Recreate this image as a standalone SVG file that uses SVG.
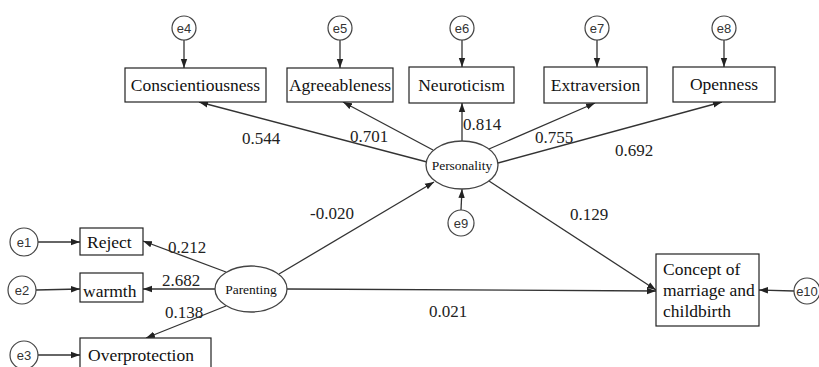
<svg xmlns="http://www.w3.org/2000/svg" width="819" height="367" viewBox="0 0 819 367">
<defs>
<marker id="ah" markerUnits="userSpaceOnUse" markerWidth="10" markerHeight="8" refX="9" refY="4" orient="auto">
<path d="M0,0.8 L9,4 L0,7.2 Z" fill="#222"/>
</marker>
<style>
.box{fill:#fff;stroke:#222;stroke-width:1.2}
.err{fill:#fff;stroke:#444;stroke-width:1.2}
.lat{fill:#fff;stroke:#444;stroke-width:1.3}
.c{stroke:#333;stroke-width:1.3;fill:none;marker-end:url(#ah)}
.t{font-family:'Liberation Serif','DejaVu Serif',serif;font-size:17.5px;fill:#111}
.tm{text-anchor:middle}
.e{font-family:'Liberation Sans',Arial,sans-serif;font-size:13px;fill:#333;text-anchor:middle}
.l{font-family:'Liberation Serif','DejaVu Serif',serif;font-size:13.5px;fill:#111;text-anchor:middle}
.n{font-family:'Liberation Serif','DejaVu Serif',serif;font-size:17px;fill:#222}
</style>
</defs>
<rect width="819" height="367" fill="#fff"/>
<g id="connectors">
<line class="c" x1="184" y1="40" x2="184" y2="68"/>
<line class="c" x1="340" y1="40" x2="340" y2="68"/>
<line class="c" x1="462" y1="40" x2="462" y2="67"/>
<line class="c" x1="597" y1="40" x2="597" y2="67"/>
<line class="c" x1="724" y1="40" x2="724" y2="67"/>
<line class="c" x1="427" y1="162" x2="199" y2="102"/>
<line class="c" x1="433" y1="150" x2="343" y2="102"/>
<line class="c" x1="462" y1="141" x2="462" y2="103"/>
<line class="c" x1="489" y1="149" x2="595" y2="103"/>
<line class="c" x1="498" y1="163" x2="722" y2="102"/>
<line class="c" x1="489" y1="181" x2="656" y2="290"/>
<line class="c" x1="461" y1="210" x2="462" y2="189"/>
<line class="c" x1="279" y1="274" x2="434" y2="182"/>
<line class="c" x1="287" y1="289" x2="656" y2="291"/>
<line class="c" x1="226" y1="272" x2="143" y2="241"/>
<line class="c" x1="215" y1="289" x2="143" y2="289"/>
<line class="c" x1="226" y1="306" x2="146" y2="338"/>
<line class="c" x1="38" y1="242" x2="80" y2="242"/>
<line class="c" x1="36" y1="290" x2="80" y2="289"/>
<line class="c" x1="38" y1="355" x2="80" y2="355"/>
<line class="c" x1="794" y1="291" x2="759" y2="290"/>
</g>
<g id="labels" font-family="Liberation Serif, DejaVu Serif, serif">
<text class="n" x="242" y="144">0.544</text>
<text class="n" x="350" y="142">0.701</text>
<text class="n" x="463" y="130">0.814</text>
<text class="n" x="535" y="143">0.755</text>
<text class="n" x="615" y="156">0.692</text>
<text class="n" x="310" y="219">-0.020</text>
<text class="n" x="570" y="220">0.129</text>
<text class="n" x="168" y="253">0.212</text>
<text class="n" x="162" y="286">2.682</text>
<text class="n" x="165" y="318">0.138</text>
<text class="n" x="429" y="317">0.021</text>
</g>
<g id="e4"><circle class="err" cx="184" cy="28" r="12"/><text class="e" x="184" y="32.5">e4</text></g>
<g id="e5"><circle class="err" cx="340" cy="28" r="12"/><text class="e" x="340" y="32.5">e5</text></g>
<g id="e6"><circle class="err" cx="462" cy="28" r="12"/><text class="e" x="462" y="32.5">e6</text></g>
<g id="e7"><circle class="err" cx="597" cy="28" r="12"/><text class="e" x="597" y="32.5">e7</text></g>
<g id="e8"><circle class="err" cx="724" cy="28" r="12"/><text class="e" x="724" y="32.5">e8</text></g>
<g id="conscientiousness"><rect class="box" x="125" y="68" width="141" height="34"/><text class="t tm" x="195.5" y="91">Conscientiousness</text></g>
<g id="agreeableness"><rect class="box" x="287" y="68" width="106" height="34"/><text class="t tm" x="340" y="91">Agreeableness</text></g>
<g id="neuroticism"><rect class="box" x="409" y="67" width="105" height="36"/><text class="t tm" x="461.5" y="91">Neuroticism</text></g>
<g id="extraversion"><rect class="box" x="544" y="67" width="103" height="36"/><text class="t tm" x="595.5" y="91">Extraversion</text></g>
<g id="openness"><rect class="box" x="673" y="67" width="102" height="35"/><text class="t tm" x="724" y="90">Openness</text></g>
<g id="personality"><ellipse class="lat" cx="462" cy="165" rx="36" ry="24"/><text class="l" x="462" y="169.5">Personality</text></g>
<g id="e9"><circle class="err" cx="461" cy="223" r="13"/><text class="e" x="461" y="227.5">e9</text></g>
<g id="parenting"><ellipse class="lat" cx="251" cy="289" rx="36" ry="23"/><text class="l" x="251" y="293.5">Parenting</text></g>
<g id="e1"><circle class="err" cx="24" cy="242" r="14"/><text class="e" x="24" y="246.5">e1</text></g>
<g id="e2"><circle class="err" cx="22" cy="290" r="14"/><text class="e" x="22" y="294.5">e2</text></g>
<g id="e3"><circle class="err" cx="24" cy="355" r="14"/><text class="e" x="24" y="359.5">e3</text></g>
<g id="reject"><rect class="box" x="80" y="228" width="63" height="27"/><text class="t" x="87" y="248">Reject</text></g>
<g id="warmth"><rect class="box" x="80" y="273" width="63" height="29"/><text class="t" x="83" y="297">warmth</text></g>
<g id="overprotection"><rect class="box" x="80" y="338" width="131" height="34"/><text class="t" x="88" y="361">Overprotection</text></g>
<g id="concept"><rect class="box" x="656" y="254" width="103" height="72"/><text class="t" x="663" y="275">Concept of</text><text class="t" x="663" y="296">marriage and</text><text class="t" x="663" y="317">childbirth</text></g>
<g id="e10"><circle class="err" cx="807" cy="291" r="13"/><text class="e" x="807" y="295.5" font-size="12">e10</text></g>
</svg>
